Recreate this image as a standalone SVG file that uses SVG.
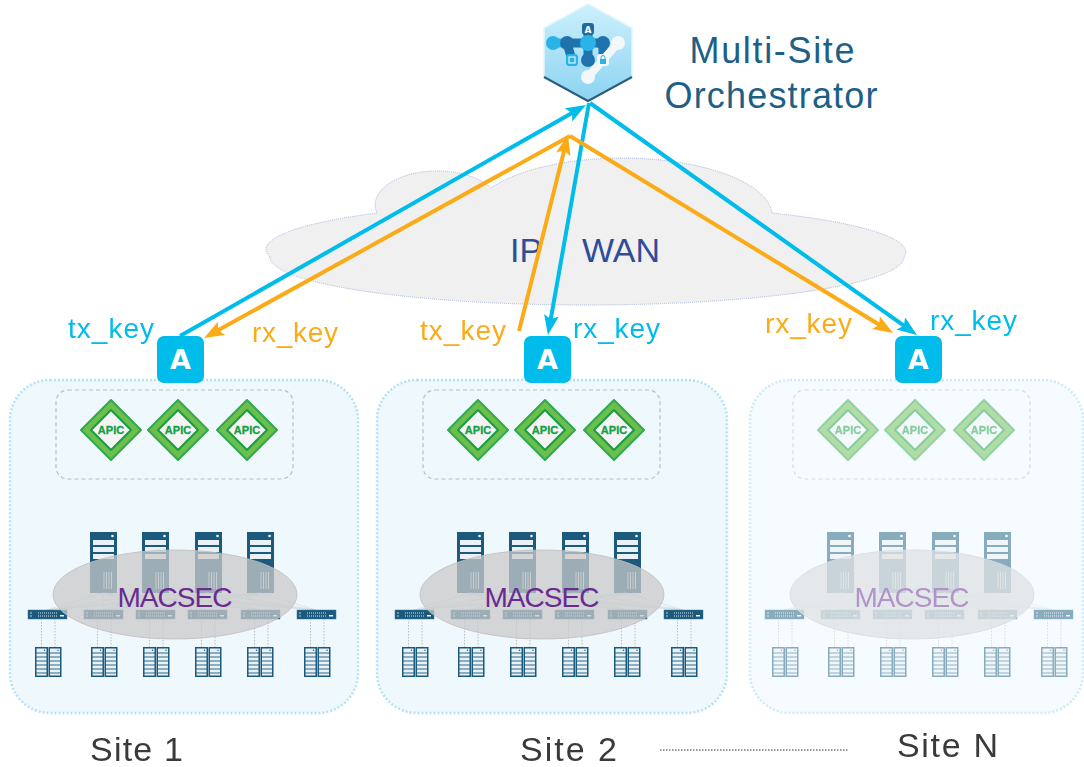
<svg xmlns="http://www.w3.org/2000/svg" xmlns:xlink="http://www.w3.org/1999/xlink" width="1084" height="767" viewBox="0 0 1084 767">
  <style>
    .panel { fill: #eef8fd; stroke: #b3e2f6; stroke-width: 2.5; stroke-dasharray: 2 2; }
    .panel-far { fill: #f5fbfe; stroke: #cdebf8; stroke-width: 2.5; stroke-dasharray: 2 2; }
    .apic { font-family: "Liberation Sans", Arial, sans-serif; font-weight: bold; font-size: 11px; fill: #14a046; stroke: #14a046; stroke-width: 0.3; text-anchor: middle; }
    .macsec { font-family: "Liberation Sans", Arial, sans-serif; font-size: 28px; fill: #6a2a92; text-anchor: middle; }
    .key { font-family: "Liberation Sans", Arial, sans-serif; font-size: 28px; }
    .blue-t { fill: #00bceb; }
    .orange-t { fill: #fbab18; }
    .site { font-family: "Liberation Sans", Arial, sans-serif; font-size: 34px; fill: #3a3a3a; }
    .title { font-family: "Liberation Sans", Arial, sans-serif; font-size: 36px; fill: #1e5f86; text-anchor: middle; }
    .wan { font-family: "Liberation Sans", Arial, sans-serif; font-size: 34px; fill: #2f4d96; }
    .ibadge { font-family: "DejaVu Sans", "Liberation Sans", sans-serif; font-weight: bold; font-size: 27px; fill: #ffffff; text-anchor: middle; }
    .link-blue { stroke: #00bceb; stroke-width: 4; fill: none; }
    .link-orange { stroke: #fbab18; stroke-width: 4; fill: none; }
  </style>
  <defs>
    <marker id="head-blue" markerUnits="userSpaceOnUse" markerWidth="20" markerHeight="16" refX="6" refY="7.5" orient="auto">
      <path d="M0,0 L20,7.5 L0,15 L4,7.5 Z" fill="#00bceb"/>
    </marker>
    <marker id="head-orange" markerUnits="userSpaceOnUse" markerWidth="20" markerHeight="16" refX="6" refY="7.5" orient="auto">
      <path d="M0,0 L20,7.5 L0,15 L4,7.5 Z" fill="#fbab18"/>
    </marker>
    <linearGradient id="hex-fill" x1="0" y1="0" x2="0" y2="1">
      <stop offset="0" stop-color="#ccf0fd"/>
      <stop offset="1" stop-color="#8cd3f1"/>
    </linearGradient>

    <!-- APIC controller badge, centred on 0,0 -->
    <g id="apic-shape">
      <path d="M0,-30 L30,0 L0,30 L-30,0 Z" fill="#6dbf4b" stroke="#2fa84f" stroke-width="2" stroke-linejoin="round"/>
      <path d="M0,-20 L20,0 L0,20 L-20,0 Z" fill="#f3f4f3" stroke="#179c46" stroke-width="2" stroke-linejoin="round"/>
    </g>

    <!-- spine tower -->
    <g id="tower">
      <rect width="27" height="61" fill="#1b5a7d"/>
      <rect x="3" y="8" width="21" height="5" fill="#e9f1f6"/>
      <rect x="3" y="15" width="21" height="5" fill="#e9f1f6"/>
      <rect x="3" y="22" width="21" height="5" fill="#e9f1f6"/>
      <circle cx="22.5" cy="4" r="1.3" fill="#ffffff"/>
      <path d="M14,40V57M16.5,40V57M19,40V57M21.5,40V57" stroke="#d6e4ec" stroke-width="0.9"/>
    </g>

    <!-- leaf switch -->
    <g id="switch">
      <rect width="39" height="9" fill="#1b5a7d" stroke="#3b7799" stroke-width="0.5"/>
      <path d="M10,3H30M10,6H30" stroke="#dfe9ef" stroke-width="1" stroke-dasharray="1 1"/>
      <circle cx="3" cy="3" r="0.7" fill="#ffffff"/>
      <circle cx="3" cy="6" r="0.7" fill="#ffffff"/>
      <rect x="32" y="5" width="4" height="1.5" fill="#ffffff"/>
    </g>

    <!-- host rack -->
    <g id="rack">
      <rect x="0.75" y="0.75" width="11.5" height="28.5" fill="#e7f1f6" stroke="#1b5a7d" stroke-width="1.5"/>
      <path d="M1,6H12M1,10H12M1,14H12M1,18H12M1,22H12M1,26H12" stroke="#1b5a7d" stroke-width="0.9"/>
      <circle cx="9.5" cy="3.3" r="0.7" fill="#1b5a7d"/>
    </g>

    <!-- one site fabric: controllers, spines, leaves, hosts -->
    <g id="fabric">
      <rect x="56" y="390" width="237" height="89" rx="12" fill="none" stroke="#bdbdbd" stroke-width="1.2" stroke-dasharray="4 3"/>
      <use href="#apic-shape" x="111" y="430"/>
      <use href="#apic-shape" x="178" y="430"/>
      <use href="#apic-shape" x="247" y="430"/>

      <use href="#tower" x="90" y="532"/>
      <use href="#tower" x="142" y="532"/>
      <use href="#tower" x="195" y="532"/>
      <use href="#tower" x="247" y="532"/>

      <g stroke="#c3cace" stroke-width="0.6" opacity="0.7">
        <path d="M103,593L47,610M103,593L103,610M103,593L155,610M103,593L207,610M103,593L260,610M103,593L316,610"/>
        <path d="M155,593L47,610M155,593L103,610M155,593L207,610M155,593L260,610M155,593L316,610"/>
        <path d="M208,593L47,610M208,593L103,610M208,593L155,610M208,593L260,610M208,593L316,610"/>
        <path d="M260,593L47,610M260,593L103,610M260,593L155,610M260,593L207,610M260,593L316,610"/>
      </g>

      <use href="#switch" x="28" y="610"/>
      <use href="#switch" x="84" y="610"/>
      <use href="#switch" x="136" y="610"/>
      <use href="#switch" x="188" y="610"/>
      <use href="#switch" x="241" y="610"/>
      <use href="#switch" x="297" y="610"/>

      <g stroke="#b9bfc3" stroke-width="1" stroke-dasharray="1.5 1.5">
        <path d="M41.5,619V647M55,619V647M97.5,619V647M111,619V647M149.5,619V647M163,619V647"/>
        <path d="M201.5,619V647M215,619V647M254.5,619V647M268,619V647M310.5,619V647M324,619V647"/>
      </g>

      <ellipse cx="175" cy="594.5" rx="122" ry="44.5" fill="#cacaca" fill-opacity="0.75" stroke="#bdbdbd" stroke-width="0.8"/>

      <use href="#rack" x="35" y="647"/><use href="#rack" x="48.5" y="647"/>
      <use href="#rack" x="91" y="647"/><use href="#rack" x="104.5" y="647"/>
      <use href="#rack" x="143" y="647"/><use href="#rack" x="156.5" y="647"/>
      <use href="#rack" x="195" y="647"/><use href="#rack" x="208.5" y="647"/>
      <use href="#rack" x="247" y="647"/><use href="#rack" x="260.5" y="647"/>
      <use href="#rack" x="304" y="647"/><use href="#rack" x="317.5" y="647"/>
    </g>

    <!-- site gateway badge -->
    <rect id="gw-box" width="47" height="47" rx="7" fill="#00bceb"/>
  </defs>

  <rect width="1084" height="767" fill="#ffffff"/>

  <!-- WAN cloud -->
  <g id="ip-wan">
    <path d="M270,257 A317,48 0 0 0 904,257 A317,48 0 0 0 772,213 A150,58 0 0 0 491,188 A62,34 0 0 0 377,213 A317,48 0 0 0 270,257 Z"
          fill="#f0f0f0" stroke="#a7b6e0" stroke-width="1" stroke-dasharray="1 1"/>
    <text class="wan" x="510" y="262">IP</text>
    <text class="wan" x="582" y="262">WAN</text>
  </g>

  <!-- Site 1 -->
  <g id="site-1">
    <rect class="panel" x="10" y="380" width="348" height="333" rx="40"/>
    <use href="#fabric"/>
    <text class="apic" x="111" y="434">APIC</text>
    <text class="apic" x="178" y="434">APIC</text>
    <text class="apic" x="247" y="434">APIC</text>
    <text class="macsec" x="175" y="607" textLength="115">MACSEC</text>
  </g>

  <!-- Site 2 -->
  <g id="site-2">
    <rect class="panel" x="377" y="380" width="350" height="333" rx="40"/>
    <g transform="translate(367,0)">
      <use href="#fabric"/>
      <text class="apic" x="111" y="434">APIC</text>
      <text class="apic" x="178" y="434">APIC</text>
      <text class="apic" x="247" y="434">APIC</text>
      <text class="macsec" x="175" y="607" textLength="115">MACSEC</text>
    </g>
  </g>

  <!-- Site N -->
  <g id="site-n">
    <rect class="panel-far" x="750" y="380" width="333" height="333" rx="40"/>
    <g transform="translate(737,0)" opacity="0.5">
      <use href="#fabric"/>
      <text class="apic" x="111" y="434">APIC</text>
      <text class="apic" x="178" y="434">APIC</text>
      <text class="apic" x="247" y="434">APIC</text>
      <text class="macsec" x="175" y="607" textLength="115">MACSEC</text>
    </g>
  </g>

  <!-- Orchestrator -->
  <g id="orchestrator">
    <path d="M588,4 L632,28 L632,77 L588,101 L544,77 L544,28 Z" fill="url(#hex-fill)" stroke="#e2f6fd" stroke-width="1.5" stroke-linejoin="round"/>
    <path d="M632,77 L588,101 L544,77" fill="none" stroke="#2a5d7b" stroke-width="2" stroke-linejoin="round"/>
    <g stroke-linecap="round" fill="none">
      <path d="M553,43 H567" stroke="#2ab3e6" stroke-width="9"/>
      <path d="M567,43 L572,60" stroke="#1f73ad" stroke-width="9"/>
      <path d="M588,30 V60" stroke="#1f73ad" stroke-width="9"/>
      <path d="M567,43 H603" stroke="#1f73ad" stroke-width="9"/>
      <path d="M603,43 V60" stroke="#1f73ad" stroke-width="9"/>
      <path d="M618,43 L603,60 L588,77" stroke="#f2f7fa" stroke-width="8"/>
    </g>
    <circle cx="553" cy="43" r="7" fill="#2ab3e6"/>
    <circle cx="567" cy="43" r="7" fill="#1f73ad"/>
    <circle cx="588" cy="43" r="8" fill="#2ab3e6"/>
    <circle cx="603" cy="43" r="7" fill="#1f73ad"/>
    <circle cx="618" cy="43" r="7" fill="#f2f7fa"/>
    <circle cx="588" cy="60" r="7" fill="#1f73ad"/>
    <circle cx="588" cy="77" r="7" fill="#f2f7fa"/>
    <rect x="566" y="54" width="12" height="12" rx="3" fill="#2ab3e6"/>
    <rect x="569" y="57" width="6" height="6" fill="none" stroke="#ffffff" stroke-width="1"/>
    <rect x="597" y="54" width="12" height="12" rx="3" fill="#f2f7fa"/>
    <rect x="600" y="59" width="6" height="5" fill="#2ab3e6"/>
    <path d="M601,59 V57.5 A2,2 0 0 1 605,57.5 V59" fill="none" stroke="#2ab3e6" stroke-width="1"/>
    <rect x="582" y="23" width="12" height="12" rx="3" fill="#1f6aa3"/>
    <text x="588" y="33" font-family="DejaVu Sans, sans-serif" font-weight="bold" font-size="9" fill="#ffffff" text-anchor="middle">A</text>
    <text class="title" x="772" y="63" textLength="165">Multi-Site</text>
    <text class="title" x="771" y="108" textLength="213">Orchestrator</text>
  </g>

  <!-- key exchange connectors -->
  <g id="connectors">
    <line class="link-blue" x1="180" y1="336" x2="573.8" y2="111.9" marker-end="url(#head-blue)"/>
    <line class="link-orange" x1="570" y1="136" x2="216.3" y2="331.2" marker-end="url(#head-orange)"/>
    <line class="link-orange" x1="519" y1="331" x2="564.6" y2="148.6" marker-end="url(#head-orange)"/>
    <line class="link-blue" x1="589" y1="103" x2="550.4" y2="321.2" marker-end="url(#head-blue)"/>
    <line class="link-orange" x1="570" y1="136" x2="881" y2="325.7" marker-end="url(#head-orange)"/>
    <line class="link-blue" x1="590" y1="103" x2="905.6" y2="326.9" marker-end="url(#head-blue)"/>
  </g>

  <!-- site gateways -->
  <g id="gateway-1">
    <use href="#gw-box" x="157" y="336"/>
    <text class="ibadge" x="180.5" y="369">A</text>
  </g>
  <g id="gateway-2">
    <use href="#gw-box" x="524" y="336"/>
    <text class="ibadge" x="547.5" y="369">A</text>
  </g>
  <g id="gateway-n">
    <use href="#gw-box" x="895" y="336"/>
    <text class="ibadge" x="918.5" y="369">A</text>
  </g>

  <!-- key labels -->
  <g id="key-labels">
    <text class="key blue-t" x="68" y="338" textLength="86">tx_key</text>
    <text class="key orange-t" x="252" y="342" textLength="86">rx_key</text>
    <text class="key orange-t" x="420" y="340" textLength="86">tx_key</text>
    <text class="key blue-t" x="573" y="338" textLength="87">rx_key</text>
    <text class="key orange-t" x="765" y="333" textLength="87">rx_key</text>
    <text class="key blue-t" x="930" y="330" textLength="87">rx_key</text>
  </g>

  <!-- site captions -->
  <g id="captions">
    <text class="site" x="90" y="761" textLength="93">Site 1</text>
    <text class="site" x="520" y="761" textLength="97">Site 2</text>
    <line x1="660" y1="750" x2="848" y2="750" stroke="#7a7a7a" stroke-width="1.6" stroke-dasharray="1.5 1.5"/>
    <text class="site" x="897" y="757" textLength="101">Site N</text>
  </g>
</svg>
